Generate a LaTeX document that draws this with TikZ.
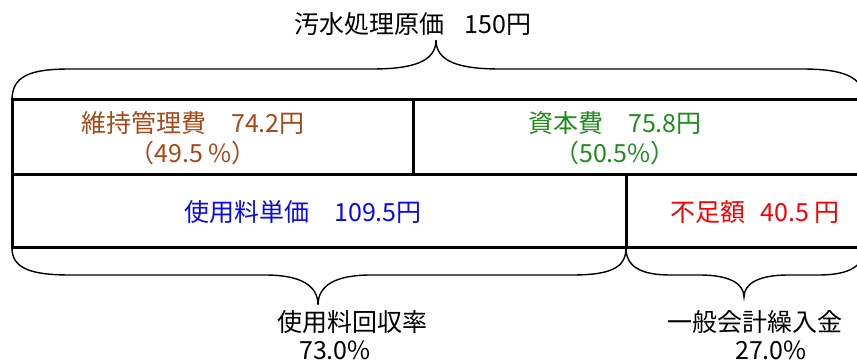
\documentclass[tikz,border=0pt]{standalone}
\usepackage{fontspec}
\setmainfont{Noto Sans CJK JP}
\definecolor{brn}{RGB}{168,72,22}
\definecolor{grn}{RGB}{30,140,30}
\definecolor{blu}{RGB}{10,10,240}
\definecolor{rd}{RGB}{250,0,0}
\begin{document}
\begin{tikzpicture}[x=1pt,y=-1pt,
  boxline/.style={line width=3pt},
  brace/.style={line width=1.4pt},
  lbl/.style={font=\fontsize{25}{29}\selectfont, inner sep=0pt, anchor=center}]
\useasboundingbox (0,0) rectangle (857,363);
\clip (0,0) rectangle (857,363);
% box corners
\coordinate (TL) at (12,100);
\coordinate (TR) at (864,100);
\coordinate (ML) at (12,175);
\coordinate (MR) at (864,175);
\coordinate (BL) at (12,248);
\coordinate (BR) at (864,248);
\coordinate (TD1) at (413,100);
\coordinate (TD2) at (413,175);
\coordinate (BD1) at (626,175);
\coordinate (BD2) at (626,248);
\draw[boxline] (TL) rectangle (BR);
\draw[boxline] (ML) -- (MR);
\draw[boxline] (TD1) -- (TD2);
\draw[boxline] (BD1) -- (BD2);
% top brace
\coordinate (tip1) at (436,40);
\draw[brace] (TL) .. controls (12,76) and (30,69) .. (70,69) -- (372,69)
  .. controls (412,69) and (436,62) .. (tip1)
  .. controls (436,62) and (460,69) .. (500,69) -- (802,69)
  .. controls (842,69) and (864,76) .. (TR);
% bottom left brace
\coordinate (tip2) at (318,305);
\draw[brace] (BL) .. controls (12,268) and (30,275) .. (70,275) -- (265,275)
  .. controls (300,275) and (318,285) .. (tip2)
  .. controls (318,285) and (336,275) .. (371,275) -- (572,275)
  .. controls (610,275) and (626,268) .. (BD2);
% bottom right brace
\coordinate (tip3) at (744,297);
\draw[brace] (BD2) .. controls (626,266) and (640,275) .. (670,275) -- (700,275)
  .. controls (728,275) and (744,283) .. (tip3)
  .. controls (744,283) and (760,275) .. (788,275) -- (818,275)
  .. controls (850,275) and (864,266) .. (BR);
% labels
\node[lbl] (title) at (413,24) {汚水処理原価\hspace{0.8em}150円};
\node[lbl,text=brn] (ijl1) at (193,123) {維持管理費　74.2円};
\node[lbl,text=brn] (ijl2) at (193,153) {（49.5 \%）};
\node[lbl,text=grn] (shl1) at (615,123) {資本費　75.8円};
\node[lbl,text=grn] (shl2) at (615,153) {（50.5\%）};
\node[lbl,text=blu] (tanka) at (303,212) {使用料単価　109.5円};
\node[lbl,text=rd] (fusoku) at (755,212) {不足額\hspace{0.6em}40.5 円};
\node[lbl] (kaishu) at (352,322) {使用料回収率};
\node[lbl] (kaishup) at (335,350) {73.0\%};
\node[lbl] (ippan) at (755,322) {一般会計繰入金};
\node[lbl] (ippanp) at (771,350) {27.0\%};
\end{tikzpicture}
\end{document}
